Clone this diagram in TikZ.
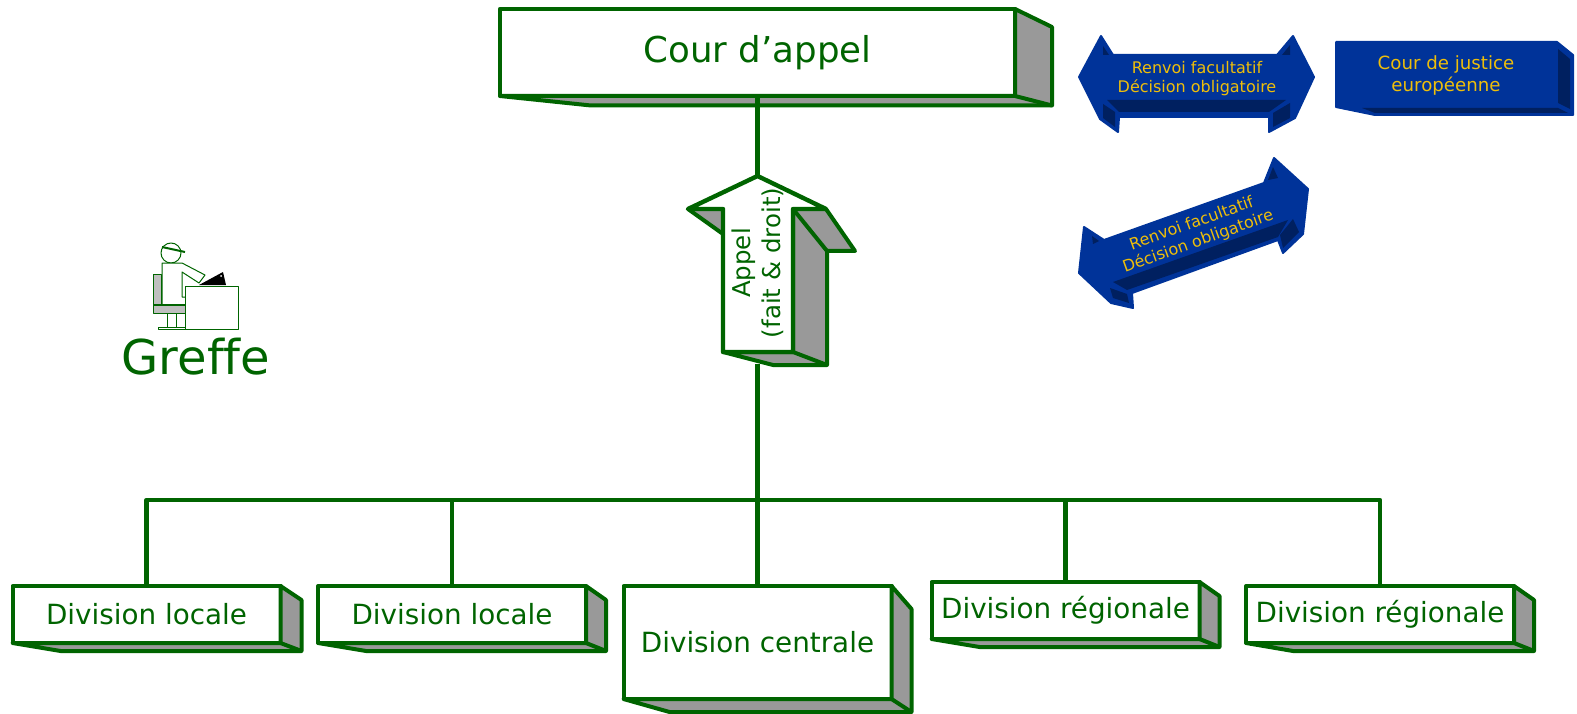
\documentclass[tikz,border=0pt]{standalone}
\usepackage{fontspec}
\setmainfont[Ligatures=NoCommon]{DejaVu Sans}
\usetikzlibrary{calc}
\definecolor{courtgreen}{RGB}{0,100,0}
\definecolor{facegrey}{RGB}{153,153,153}
\definecolor{eublue}{RGB}{0,51,153}
\definecolor{eudark}{RGB}{0,32,96}
\definecolor{euyellow}{RGB}{238,190,10}
\newcommand{\sidefaces}[5]{%
  \draw[face] (#1.north east) -- ++(#2,#3) -- ($(#1.south east)+(#2,#4)$)
    -- ($(#1.south west)+(#5,#4)$) -- (#1.south west) -- (#1.south east) -- cycle;
  \draw[face] (#1.south east) -- ++(#2,#4);}
\begin{document}
\begin{tikzpicture}[x=1pt, y=-1pt, line join=round,
  court/.style={draw=courtgreen, line width=4.4pt, fill=white, outer sep=0pt, inner sep=0pt,
    text=courtgreen, align=center},
  division/.style={court, line width=4pt, minimum width=268pt, minimum height=57pt, font=\fontsize{27.8}{32}\selectfont},
  face/.style={draw=courtgreen, line width=4pt, fill=facegrey},
  link/.style={draw=courtgreen, line width=4.4pt},
  eushape/.style={draw=eublue, line width=2pt, fill=eublue},
  eupanel/.style={fill=eudark},
  eutext/.style={text=euyellow, align=center, inner sep=0pt, font=\fontsize{16}{19}\selectfont},
  icon/.style={draw=courtgreen, line width=1pt, fill=white}]
  \useasboundingbox (0,0) rectangle (1577,714);
  % coordinates are reference pixels
  \node[court, minimum width=515pt, minimum height=87pt, font=\fontsize{35.6}{40}\selectfont]
    (appelcourt) at (757.5,52.5) {Cour d'appel};
  \node[division] (local1)  at (146.5,614.5) {Division locale};
  \node[division] (local2)  at (452,614.5)   {Division locale};
  \node[division, minimum height=113pt] (central) at (757.5,642.5) {Division centrale};
  \node[division] (region1) at (1065.5,610.5) {Division régionale};
  \node[division] (region2) at (1380,614.5)  {Division régionale};
  \sidefaces{appelcourt}{37}{18}{9.5}{91}
  \sidefaces{local1}{21}{14}{8}{48}
  \sidefaces{local2}{20}{14}{8}{48}
  \sidefaces{central}{20}{23}{13}{46}
  \sidefaces{region1}{20}{14}{8}{48}
  \sidefaces{region2}{20}{14}{8}{47}
  % appeal arrow
  \coordinate (appeltip)  at (757.5,176);
  \coordinate (appelbase) at (757.5,364);
  \coordinate (busjoin)   at (757.5,500);
  \draw[face] (688,209) -- (723,209) -- (723,234) -- cycle;
  \draw[face] (793,209) -- (826,209) -- (855,251) -- (827,251) -- (827,365) -- (773,365)
    -- (723,352) -- (793,352) -- cycle;
  \draw[face] (793,209) -- (827,251);
  \draw[face] (793,352) -- (827,365);
  \draw[court] (appeltip) -- (826,209) -- (793,209) -- (793,352) -- (723,352) -- (723,209)
    -- (688,209) -- cycle;
  \node[text=courtgreen, align=center, rotate=90, inner sep=0pt, font=\fontsize{24.5}{30}\selectfont]
    (appeltext) at (757.5,263) {Appel\\(fait \& droit)};
  % links
  \draw[link] (appelcourt.south) -- (appeltip);
  \draw[link] (appelbase) -- (busjoin);
  \draw[link] (busjoin) -- (central.north);
  \draw[link] (local1.north) |- (busjoin);
  \draw[link] (local2.north) |- (busjoin);
  \draw[link] (region1.north) |- (busjoin);
  \draw[link] (region2.north) |- (busjoin);
  % European court
  \draw[eushape] (1336,42) -- (1557,42) -- (1573,55) -- (1573,115) -- (1375,115) -- (1336,107) -- cycle;
  \fill[eupanel] (1558,49) -- (1570,59) -- (1570,109) -- (1558,103) -- cycle;
  \fill[eupanel] (1362,108) -- (1558,108) -- (1568,113) -- (1375,113) -- cycle;
  \node[eutext, font=\fontsize{18.2}{22}\selectfont] (justice) at (1446,75) {Cour de justice\\européenne};
  % horizontal double arrow
  \draw[eushape] (1079,77) -- (1101,36) -- (1113,55) -- (1277,55) -- (1293,36) -- (1314,77)
    -- (1295,118) -- (1269,132) -- (1269,117) -- (1119,117) -- (1118,132) -- (1100,119) -- cycle;
  \fill[eupanel] (1107,100) -- (1286,100) -- (1269,112) -- (1119,112) -- cycle;
  \fill[eupanel] (1103,104) -- (1115,112) -- (1115,127) -- (1103,118) -- cycle;
  \fill[eupanel] (1290,103) -- (1273,113) -- (1273,127) -- (1290,118) -- cycle;
  \fill[eupanel] (1103,46) -- (1109,55) -- (1103,55) -- cycle;
  \fill[eupanel] (1290,45) -- (1290,55) -- (1282,55) -- cycle;
  \node[eutext] (renvoi1) at (1197,78.5) {Renvoi facultatif\\Décision obligatoire};
  % slanted double arrow
  \draw[eushape] (1079,273) -- (1084,227) -- (1104,240) -- (1264,183) -- (1274,158) -- (1308,189)
    -- (1303,234) -- (1283,253) -- (1278,240) -- (1132,293) -- (1133,308) -- (1111,303) -- cycle;
  \fill[eupanel] (1113,282) -- (1288,220) -- (1278,237) -- (1127,290) -- cycle;
  \fill[eupanel] (1293,219) -- (1299,232) -- (1283,248) -- (1280,235) -- cycle;
  \fill[eupanel] (1110,288) -- (1127,294) -- (1129,303) -- (1113,298) -- cycle;
  \fill[eupanel] (1273,167) -- (1278,178) -- (1268,180) -- cycle;
  \fill[eupanel] (1092,236) -- (1099,241) -- (1093,244) -- cycle;
  \node[eutext, rotate=19.7] (renvoi2) at (1195,233) {Renvoi facultatif\\Décision obligatoire};
  % clerk at the desk
  \draw[icon, fill=lightgray] (153,274) rectangle (161,305);
  \draw[icon, fill=lightgray] (153,305) rectangle (185,313);
  \draw[icon] (167,313) rectangle (176,327);
  \draw[icon] (158,327) rectangle (185,329);
  \draw[icon] (171,253) circle (10);
  \draw[icon, line width=2pt] (162,247) -- (185,252);
  \draw[icon] (162,305) -- (162,263) -- (182,263) -- (205,275) -- (199,283) -- (182,272) -- (182,297) -- (185,297);
  \draw[courtgreen, line width=2pt] (153,305) -- (185,305);
  \fill[black] (199,285) -- (223,272) -- (226,285) -- cycle;
  \fill[white] (221,276) circle (1);
  \draw[icon] (185,286) rectangle (238,329);
  \node[text=courtgreen, inner sep=0pt, font=\fontsize{48}{56}\selectfont] (greffe) at (196,357) {Greffe};
\end{tikzpicture}
\end{document}
